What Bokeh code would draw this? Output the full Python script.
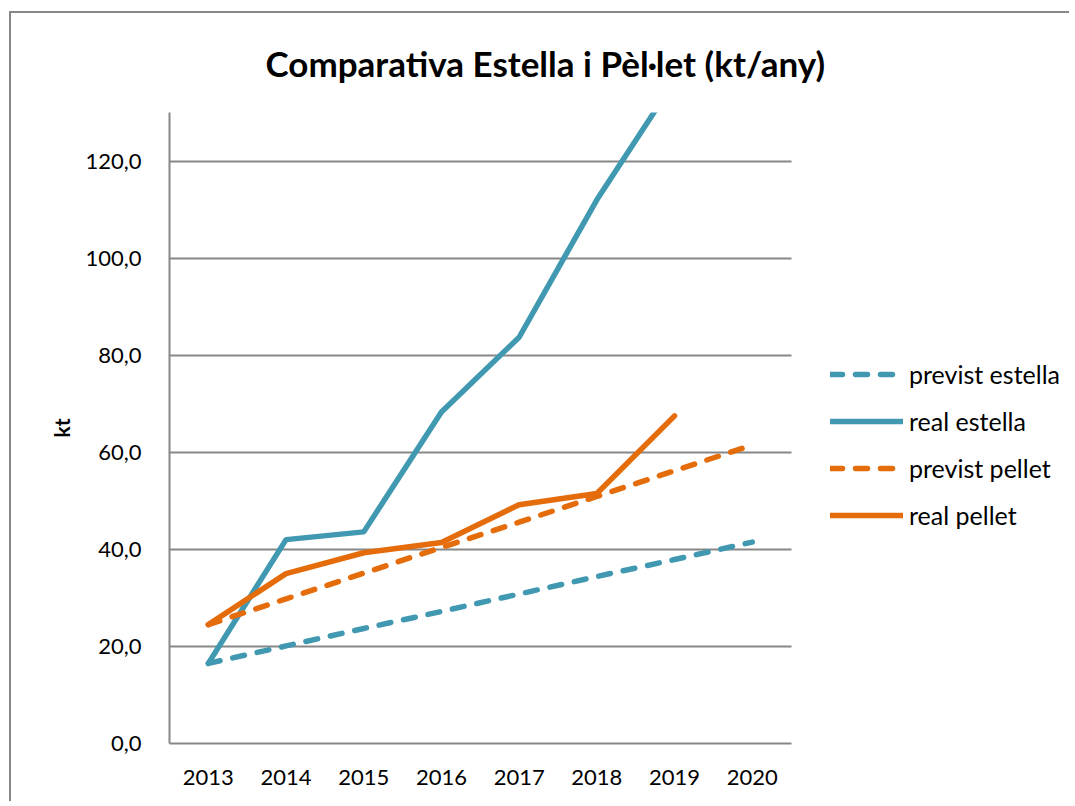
from bokeh.plotting import figure
from bokeh.models import (Range1d, FixedTicker, CustomJSTickFormatter,
                          Legend, LegendItem)
from bokeh.embed import file_html
from bokeh.resources import INLINE

years = [2013, 2014, 2015, 2016, 2017, 2018, 2019, 2020]
previst_estella = [16.5, 20.1, 23.7, 27.2, 30.8, 34.4, 37.9, 41.5]
real_estella = [16.5, 42.0, 43.6, 68.3, 83.7, 112.0, 136.5]
previst_pellet = [24.5, 29.8, 35.1, 40.4, 45.6, 50.9, 56.2, 61.5]
real_pellet = [24.5, 35.0, 39.3, 41.4, 49.2, 51.5, 67.5]
y_ticks = [0, 20, 40, 60, 80, 100, 120]

TEAL = "#4199B1"
ORANGE = "#E46C0A"
GRID = "#878787"
FONT = "Lato"

x_lo = years[0] - 0.5
x_hi = years[-1] + 0.5
p = figure(x_range=Range1d(x_lo, x_lo + 11.557), y_range=Range1d(0, 130),
           width=1060, height=790, output_backend="svg", toolbar_location=None,
           min_border_left=158, min_border_top=99, min_border_right=4,
           min_border_bottom=60)
p.outline_line_color = None
p.styles = {"border-left": f"2px solid {GRID}", "border-top": f"2px solid {GRID}",
            "margin-left": "9px", "margin-top": "11px"}

p.title.text = "Comparativa Estella i Pèl·let (kt/any)"
p.title.text_font = FONT
p.title.text_font_size = "35px"
p.title.text_font_style = "bold"
p.title.text_color = "#000000"
p.title.align = "left"
p.title.offset = 96
p.title.vertical_align = "top"
p.title.standoff = 54

# axes
for ax in (p.xaxis[0], p.yaxis[0]):
    ax.axis_line_color = GRID
    ax.axis_line_width = 2
    ax.major_tick_line_color = None
    ax.minor_tick_line_color = None
    ax.major_label_text_font = FONT
    ax.major_label_text_font_size = "22px"
    ax.major_label_text_color = "#000000"

p.xaxis.ticker = FixedTicker(ticks=years)
p.xaxis.formatter = CustomJSTickFormatter(code="return String(tick);")
p.xaxis.bounds = (x_lo, x_hi)
p.xaxis.major_label_standoff = 20
p.yaxis.major_label_standoff = 22
p.yaxis.ticker = FixedTicker(ticks=y_ticks)
p.yaxis.formatter = CustomJSTickFormatter(code="return tick.toFixed(1).replace('.', ',');")
p.yaxis.axis_label = "kt"
p.yaxis.axis_label_text_font = FONT
p.yaxis.axis_label_text_font_size = "21px"
p.yaxis.axis_label_text_font_style = "bold"
p.yaxis.axis_label_text_color = "#000000"
p.yaxis.axis_label_standoff = 8

p.xgrid.grid_line_color = None
p.ygrid.grid_line_color = GRID
p.ygrid.grid_line_width = 2
p.ygrid.ticker = FixedTicker(ticks=y_ticks)
p.ygrid.cross_bounds = (x_lo, x_hi)

common = dict(line_width=5.5, line_cap="round", line_join="round")
dash = "12 13"
r1 = p.line(years, previst_estella, line_color=TEAL, line_dash=dash, **common)
r2 = p.line(years[:len(real_estella)], real_estella, line_color=TEAL, **common)
r3 = p.line(years, previst_pellet, line_color=ORANGE, line_dash=dash, **common)
r4 = p.line(years[:len(real_pellet)], real_pellet, line_color=ORANGE, **common)

legend = Legend(items=[
    LegendItem(label="previst estella", renderers=[r1]),
    LegendItem(label="real estella", renderers=[r2]),
    LegendItem(label="previst pellet", renderers=[r3]),
    LegendItem(label="real pellet", renderers=[r4]),
], location=(661, 213))
legend.border_line_color = None
legend.background_fill_alpha = 0
legend.label_text_font = FONT
legend.label_text_font_size = "25px"
legend.label_text_color = "#000000"
legend.glyph_width = 73
legend.glyph_height = 30
legend.label_height = 30
legend.spacing = 17
legend.padding = 0
legend.margin = 0
legend.label_standoff = 6
p.add_layout(legend, "center")

open("out.html", "w").write(file_html(p, INLINE))
